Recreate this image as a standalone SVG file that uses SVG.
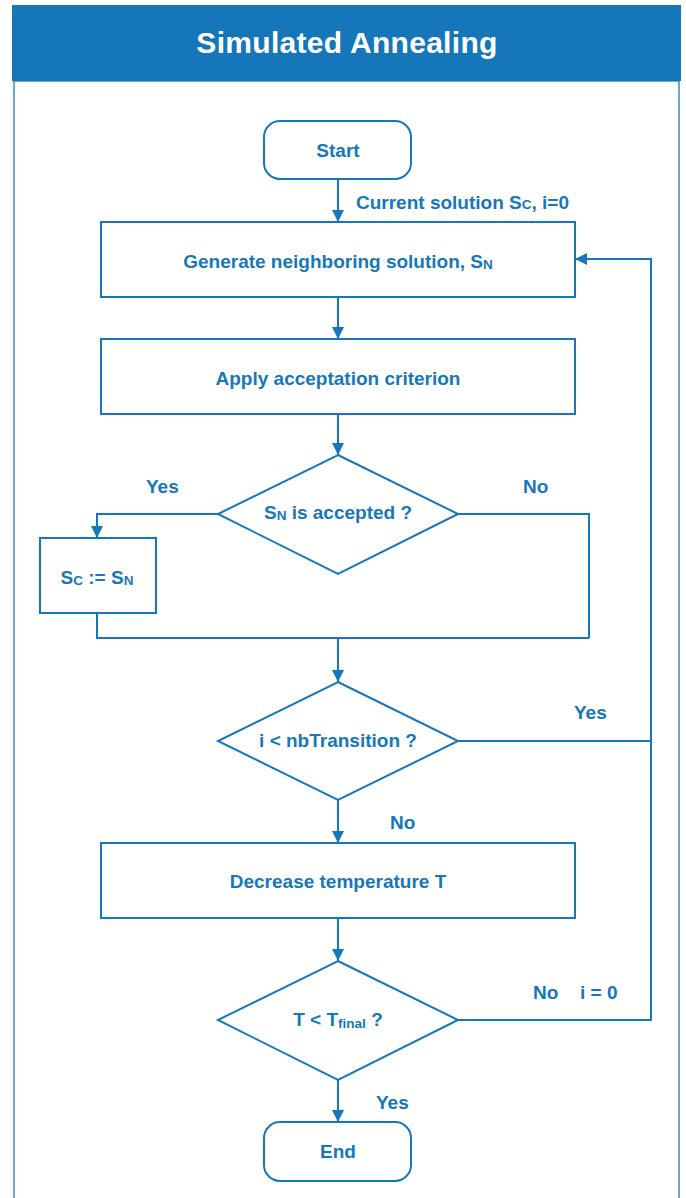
<svg xmlns="http://www.w3.org/2000/svg" width="686" height="1198" viewBox="0 0 686 1198">
<defs>
<marker id="ah" viewBox="0 0 12 12" refX="12" refY="6" markerWidth="12" markerHeight="12" markerUnits="userSpaceOnUse" orient="auto">
<path d="M0,0 L12,6 L0,12 Z" fill="#1677bb"/>
</marker>
<style>
.shape{fill:#fff;stroke:#1677bb;stroke-width:2}
.ln{fill:none;stroke:#1677bb;stroke-width:2}
.t{font-family:"Liberation Sans",Arial,sans-serif;font-weight:bold;font-size:19px;fill:#1677bb;text-anchor:middle}
.lb{font-family:"Liberation Sans",Arial,sans-serif;font-weight:bold;font-size:19px;fill:#1677bb}
.sub{font-size:13.5px}
</style>
</defs>
<rect x="0" y="0" width="686" height="1198" fill="#fff"/>
<g id="frame">
<rect x="14" y="81" width="665" height="1130" fill="none" stroke="#3a8cc8" stroke-width="1.5"/>
<rect x="12" y="5" width="669" height="76" fill="#1577ba"/>
<text x="347" y="53" font-family="'Liberation Sans',Arial,sans-serif" font-weight="bold" font-size="30" letter-spacing="0.3" fill="#fff" text-anchor="middle">Simulated Annealing</text>
</g>
<g id="connectors">
<line class="ln" x1="338" y1="179" x2="338" y2="222" marker-end="url(#ah)"/>
<line class="ln" x1="338" y1="297" x2="338" y2="339" marker-end="url(#ah)"/>
<line class="ln" x1="338" y1="414" x2="338" y2="455" marker-end="url(#ah)"/>
<polyline class="ln" points="218,514 97,514 97,538" marker-end="url(#ah)"/>
<polyline class="ln" points="97,613 97,638 589,638"/>
<polyline class="ln" points="458,514 589,514 589,638"/>
<line class="ln" x1="338" y1="638" x2="338" y2="682" marker-end="url(#ah)"/>
<line class="ln" x1="458" y1="741" x2="651" y2="741"/>
<line class="ln" x1="338" y1="800" x2="338" y2="843" marker-end="url(#ah)"/>
<line class="ln" x1="338" y1="918" x2="338" y2="961" marker-end="url(#ah)"/>
<polyline class="ln" points="458,1020 651,1020 651,259 575,259" marker-end="url(#ah)"/>
<line class="ln" x1="338" y1="1080" x2="338" y2="1122" marker-end="url(#ah)"/>
<text class="lb" x="356" y="209">Current solution S<tspan class="sub">C</tspan>, i=0</text>
<text class="lb" x="146" y="493">Yes</text>
<text class="lb" x="523" y="493">No</text>
<text class="lb" x="574" y="719">Yes</text>
<text class="lb" x="390" y="829">No</text>
<text class="lb" x="533" y="999">No</text>
<text class="lb" x="580" y="999">i = 0</text>
<text class="lb" x="376" y="1109">Yes</text>
</g>
<g id="start">
<rect class="shape" x="264" y="121" width="147" height="58" rx="16"/>
<text class="t" x="338" y="157">Start</text>
</g>
<g id="generate">
<rect class="shape" x="101" y="222" width="474" height="75"/>
<text class="t" x="338" y="268">Generate neighboring solution, S<tspan class="sub" dy="1">N</tspan></text>
</g>
<g id="apply">
<rect class="shape" x="101" y="339" width="474" height="75"/>
<text class="t" x="338" y="385">Apply acceptation criterion</text>
</g>
<g id="accepted">
<polygon class="shape" points="338,455 458,514 338,574 218,514"/>
<text class="t" x="338" y="519">S<tspan class="sub" dy="1">N</tspan><tspan dy="-1"> is accepted ?</tspan></text>
</g>
<g id="assign">
<rect class="shape" x="40" y="538" width="116" height="75"/>
<text class="t" x="97" y="584">S<tspan class="sub" dy="1">C</tspan><tspan dy="-1"> := S</tspan><tspan class="sub" dy="1">N</tspan></text>
</g>
<g id="transition">
<polygon class="shape" points="338,682 458,741 338,800 218,741"/>
<text class="t" x="338" y="747">i &lt; nbTransition ?</text>
</g>
<g id="decrease">
<rect class="shape" x="101" y="843" width="474" height="75"/>
<text class="t" x="338" y="888">Decrease temperature T</text>
</g>
<g id="final">
<polygon class="shape" points="338,961 458,1020 338,1080 218,1020"/>
<text class="t" x="338" y="1026" font-size="17">T &lt; T<tspan class="sub" dy="2">final</tspan><tspan dy="-2"> ?</tspan></text>
</g>
<g id="end">
<rect class="shape" x="264" y="1122" width="147" height="59" rx="16"/>
<text class="t" x="338" y="1158">End</text>
</g>
</svg>
